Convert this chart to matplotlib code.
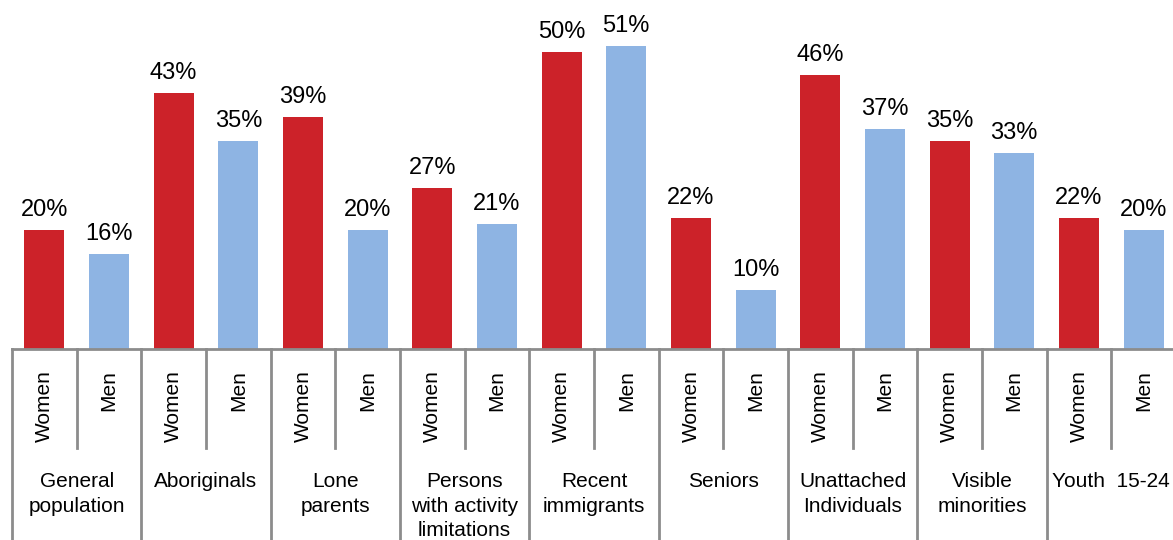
import matplotlib
matplotlib.use("Agg")
import matplotlib.pyplot as plt
import matplotlib.transforms as mtransforms

groups = ["General\npopulation", "Aboriginals", "Lone\nparents",
          "Persons\nwith activity\nlimitations", "Recent\nimmigrants", "Seniors",
          "Unattached\nIndividuals", "Visible\nminorities", "Youth  15-24"]
sexes = ["Women", "Men"]
women = [20, 43, 39, 27, 50, 22, 46, 35, 22]
men = [16, 35, 20, 21, 51, 10, 37, 33, 20]

red = "#CC2229"
blue = "#8EB4E3"
grey = "#8C8C8C"

plt.rcParams["font.family"] = ["Liberation Sans", "DejaVu Sans"]

W, H = 1173, 540
fig = plt.figure(figsize=(W / 100, H / 100), dpi=100)
left_px, axis_px = 12, 349
ax = fig.add_axes([left_px / W, (H - axis_px) / H, (W - left_px) / W * 1.0025, (axis_px - 4) / H])

values, colors, labels = [], [], []
for w, m in zip(women, men):
    values += [w, m]
    colors += [red, blue]
    labels += sexes
x = list(range(len(values)))
ax.bar(x, values, width=0.62, color=colors)
for xi, v in zip(x, values):
    ax.text(xi, v + 1.5, f"{v}%", ha="center", va="bottom", fontsize=17, color="black")

ax.set_xlim(-0.5, len(values) - 0.5)
ax.set_ylim(0, 58)
ax.set_yticks([])
ax.set_xticks([])
for s in ["top", "left", "right"]:
    ax.spines[s].set_visible(False)
ax.spines["bottom"].set_color(grey)
ax.spines["bottom"].set_linewidth(2)

tr = mtransforms.blended_transform_factory(ax.transData, fig.transFigure)
y_axis = (H - axis_px) / H
y_short = (H - 448) / H
for i in range(len(values) + 1):
    xb = i - 0.5
    y_end = 0 if i % 2 == 0 else y_short
    ax.plot([xb, xb], [y_axis, y_end], transform=tr, color=grey, lw=2, clip_on=False)

y_cat = (H - 370) / H
for xi, lab in zip(x, labels):
    ax.text(xi, y_cat, lab, transform=tr, rotation=90, ha="center", va="top", fontsize=15)

y_grp = (H - 472) / H
for gi, g in enumerate(groups):
    ax.text(2 * gi + 0.5, y_grp, g, transform=tr, ha="center", va="top", fontsize=15,
            linespacing=1.38)

fig.savefig("out.png", dpi=100)
